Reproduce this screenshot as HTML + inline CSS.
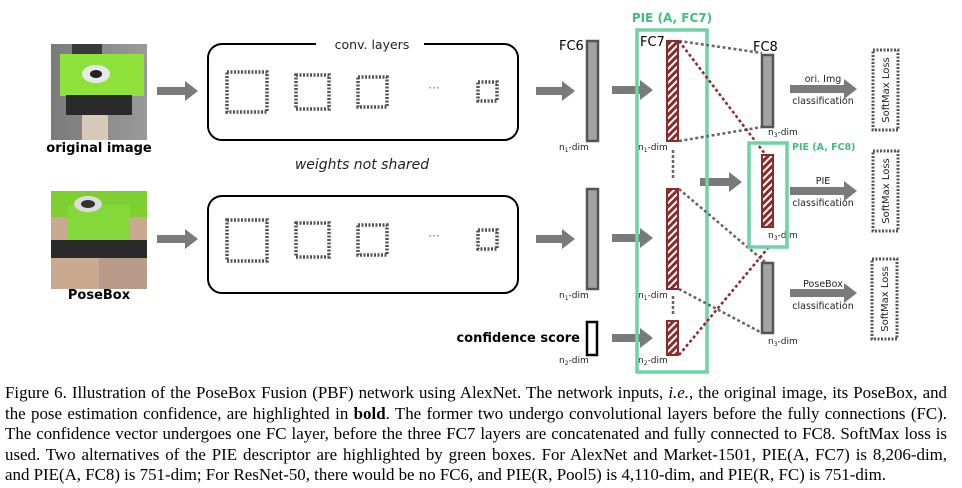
<!DOCTYPE html>
<html><head><meta charset="utf-8"><style>
body{margin:0;background:#fff;width:962px;height:488px;overflow:hidden;position:relative}
svg{position:absolute;left:0;top:0}
.cap{position:absolute;left:5px;width:942px;font-family:"Liberation Serif",serif;font-size:16.9px;line-height:20px;white-space:nowrap;text-align:justify;text-align-last:justify;color:#000}
</style></head><body>
<svg width="962" height="380" viewBox="0 0 962 380" font-family="'DejaVu Sans','Liberation Sans',sans-serif">
<defs>
<pattern id="h" width="5" height="5" patternUnits="userSpaceOnUse" patternTransform="rotate(45)">
<rect width="5" height="5" fill="#8b2a2a"/><rect width="2" height="5" fill="#fff"/></pattern>
<linearGradient id="bg1" x1="0" x2="1"><stop offset="0" stop-color="#7a7a7a"/><stop offset="1" stop-color="#9a9a9a"/></linearGradient>
</defs>
<!-- original image -->
<rect x="51" y="44" width="96" height="96" fill="url(#bg1)"/>
<rect x="72" y="44" width="30" height="14" fill="#3a3a3a"/>
<rect x="60" y="54" width="84" height="42" fill="#8ee23a"/>
<ellipse cx="96" cy="74" rx="14" ry="9" fill="#e8e8e8"/><ellipse cx="96" cy="74" rx="6" ry="4" fill="#222"/>
<rect x="66" y="95" width="66" height="20" fill="#2a2a2a"/>
<rect x="82" y="115" width="26" height="25" fill="#d8c8b8"/>
<text x="99" y="152" text-anchor="middle" font-size="13" font-weight="bold">original image</text>
<!-- posebox -->
<rect x="51" y="191" width="96" height="98" fill="#c9a990"/>
<rect x="51" y="191" width="96" height="26" fill="#7ed030"/>
<rect x="68" y="205" width="62" height="36" fill="#84d83a"/>
<ellipse cx="88" cy="204" rx="14" ry="8" fill="#ddd"/><ellipse cx="88" cy="204" rx="7" ry="4" fill="#333"/>
<rect x="51" y="240" width="96" height="18" fill="#2a2a2a"/>
<rect x="99" y="258" width="48" height="31" fill="#b89a88"/>
<text x="99" y="299" text-anchor="middle" font-size="13" font-weight="bold">PoseBox</text>
<!-- arrows -->
<g fill="#7a7a7a">
<path d="M157 87h28v-6l13 10-13 10v-6h-28z"/>
<path d="M157 235h28v-6l13 10-13 10v-6h-28z"/>
<path d="M536 87h26v-6l13 10-13 10v-6h-26z"/>
<path d="M536 235h26v-6l13 10-13 10v-6h-26z"/>
<path d="M612 86h28v-6l13 10-13 10v-6h-28z"/>
<path d="M612 234h28v-6l13 10-13 10v-6h-28z"/>
<path d="M612 334h28v-6l13 10-13 10v-6h-28z"/>
<path d="M700 178h29v-6l13 10-13 10v-6h-29z"/>
<path d="M790 85h54v-6l13 10-13 10v-6h-54z"/>
<path d="M790 187h54v-6l13 10-13 10v-6h-54z"/>
<path d="M790 289h54v-6l13 10-13 10v-6h-54z"/>
</g>
<!-- conv boxes -->
<rect x="208" y="44" width="310" height="96" rx="14" fill="none" stroke="#000" stroke-width="2"/>
<rect x="316" y="36" width="108" height="14" fill="#fff"/>
<text x="372" y="49" text-anchor="middle" font-size="12.5" fill="#222">conv. layers</text>
<rect x="208" y="196" width="310" height="97" rx="14" fill="none" stroke="#000" stroke-width="2"/>
<text x="362" y="169" text-anchor="middle" font-size="14" font-style="italic" fill="#222">weights not shared</text>
<g fill="none" stroke="#555" stroke-width="3.5" stroke-dasharray="2,1.5">
<rect x="227" y="72" width="40" height="40"/><rect x="296" y="75" width="33" height="34"/><rect x="358" y="77" width="29" height="30"/><rect x="478" y="82" width="19" height="19"/>
<rect x="227" y="220" width="40" height="41"/><rect x="296" y="223" width="33" height="34"/><rect x="358" y="225" width="29" height="30"/><rect x="478" y="230" width="19" height="19"/>
</g>
<text x="434" y="92" text-anchor="middle" font-size="12" fill="#777">···</text>
<text x="434" y="240" text-anchor="middle" font-size="12" fill="#777">···</text>
<!-- FC6 -->
<text x="559" y="50" font-size="13">FC6</text>
<rect x="587" y="41" width="11" height="100" fill="#a3a3a3" stroke="#555" stroke-width="2.5"/>
<rect x="587" y="189" width="11" height="100" fill="#a3a3a3" stroke="#555" stroke-width="2.5"/>
<rect x="587" y="322" width="10" height="33" fill="#fff" stroke="#000" stroke-width="2.5"/>
<text x="580" y="342" text-anchor="end" font-size="13" font-weight="bold">confidence score</text>
<g font-size="9" fill="#222">
<text x="559" y="150">n<tspan font-size="6" dy="2">1</tspan><tspan dy="-2">-dim</tspan></text>
<text x="559" y="298">n<tspan font-size="6" dy="2">1</tspan><tspan dy="-2">-dim</tspan></text>
<text x="559" y="363">n<tspan font-size="6" dy="2">2</tspan><tspan dy="-2">-dim</tspan></text>
<text x="638" y="150">n<tspan font-size="6" dy="2">1</tspan><tspan dy="-2">-dim</tspan></text>
<text x="638" y="298">n<tspan font-size="6" dy="2">1</tspan><tspan dy="-2">-dim</tspan></text>
<text x="638" y="363">n<tspan font-size="6" dy="2">2</tspan><tspan dy="-2">-dim</tspan></text>
<text x="768" y="135">n<tspan font-size="6" dy="2">3</tspan><tspan dy="-2">-dim</tspan></text>
<text x="768" y="238">n<tspan font-size="6" dy="2">3</tspan><tspan dy="-2">-dim</tspan></text>
<text x="768" y="344">n<tspan font-size="6" dy="2">3</tspan><tspan dy="-2">-dim</tspan></text>
</g>
<!-- PIE FC7 -->
<text x="672" y="22" text-anchor="middle" font-size="12" font-weight="bold" fill="#3fbf7f">PIE (A, FC7)</text>
<rect x="637" y="30" width="70" height="342" fill="none" stroke="#6fd3a3" stroke-width="3.5"/>
<text x="640" y="46" font-size="13">FC7</text>
<g stroke="#8b2a2a" stroke-width="2">
<rect x="667" y="41" width="11" height="100" fill="url(#h)"/>
<rect x="667" y="189" width="11" height="100" fill="url(#h)"/>
<rect x="667" y="321" width="11" height="34" fill="url(#h)"/>
</g>
<g stroke="#666" stroke-width="2.5" stroke-dasharray="3,2">
<line x1="673" y1="150" x2="673" y2="179"/><line x1="673" y1="296" x2="673" y2="316"/>
</g>
<!-- connections -->
<g stroke-width="2.5" stroke-dasharray="3,2.5" fill="none">
<line x1="679" y1="41" x2="762" y2="53" stroke="#666"/>
<line x1="679" y1="141" x2="762" y2="127" stroke="#666"/>
<line x1="679" y1="189" x2="765" y2="262" stroke="#666"/>
<line x1="679" y1="289" x2="762" y2="333" stroke="#666"/>
<line x1="679" y1="41" x2="765" y2="154" stroke="#8b2a2a"/>
<line x1="679" y1="355" x2="768" y2="248" stroke="#8b2a2a"/>
</g>
<!-- FC8 -->
<text x="753" y="51" font-size="13">FC8</text>
<rect x="762" y="55" width="11" height="72" fill="#a3a3a3" stroke="#555" stroke-width="2.5"/>
<rect x="762" y="263" width="11" height="70" fill="#a3a3a3" stroke="#555" stroke-width="2.5"/>
<rect x="749" y="143" width="38" height="104" fill="none" stroke="#6fd3a3" stroke-width="3.5"/>
<rect x="762" y="155" width="11" height="72" fill="url(#h)" stroke="#8b2a2a" stroke-width="2"/>
<text x="792" y="150" font-size="9.5" font-weight="bold" fill="#3fbf7f">PIE (A, FC8)</text>
<g font-size="9.5" fill="#222" text-anchor="middle">
<text x="823" y="82">ori. Img</text><text x="823" y="104">classification</text>
<text x="823" y="184">PIE</text><text x="823" y="206">classification</text>
<text x="823" y="287">PoseBox</text><text x="823" y="309">classification</text>
</g>
<g fill="none" stroke="#555" stroke-width="3" stroke-dasharray="2,1.5">
<rect x="873" y="50" width="25" height="80"/><rect x="873" y="151" width="25" height="80"/><rect x="872" y="259" width="25" height="80"/>
</g>
<g font-size="10" fill="#222" text-anchor="middle">
<text transform="translate(889,90) rotate(-90)">SoftMax Loss</text>
<text transform="translate(889,191) rotate(-90)">SoftMax Loss</text>
<text transform="translate(888,299) rotate(-90)">SoftMax Loss</text>
</g>
</svg>
<div class="cap" style="top:383px">Figure 6. Illustration of the PoseBox Fusion (PBF) network using AlexNet. The network inputs, <i>i.e.</i>, the original image, its PoseBox, and</div>
<div class="cap" style="top:403.5px">the pose estimation confidence, are highlighted in <b>bold</b>. The former two undergo convolutional layers before the fully connections (FC).</div>
<div class="cap" style="top:424px">The confidence vector undergoes one FC layer, before the three FC7 layers are concatenated and fully connected to FC8. SoftMax loss is</div>
<div class="cap" style="top:444.5px">used. Two alternatives of the PIE descriptor are highlighted by green boxes. For AlexNet and Market-1501, PIE(A, FC7) is 8,206-dim,</div>
<div class="cap" style="top:465px;width:auto;text-align:left;text-align-last:left">and PIE(A, FC8) is 751-dim; For ResNet-50, there would be no FC6, and PIE(R, Pool5) is 4,110-dim, and PIE(R, FC) is 751-dim.</div>
</body></html>
